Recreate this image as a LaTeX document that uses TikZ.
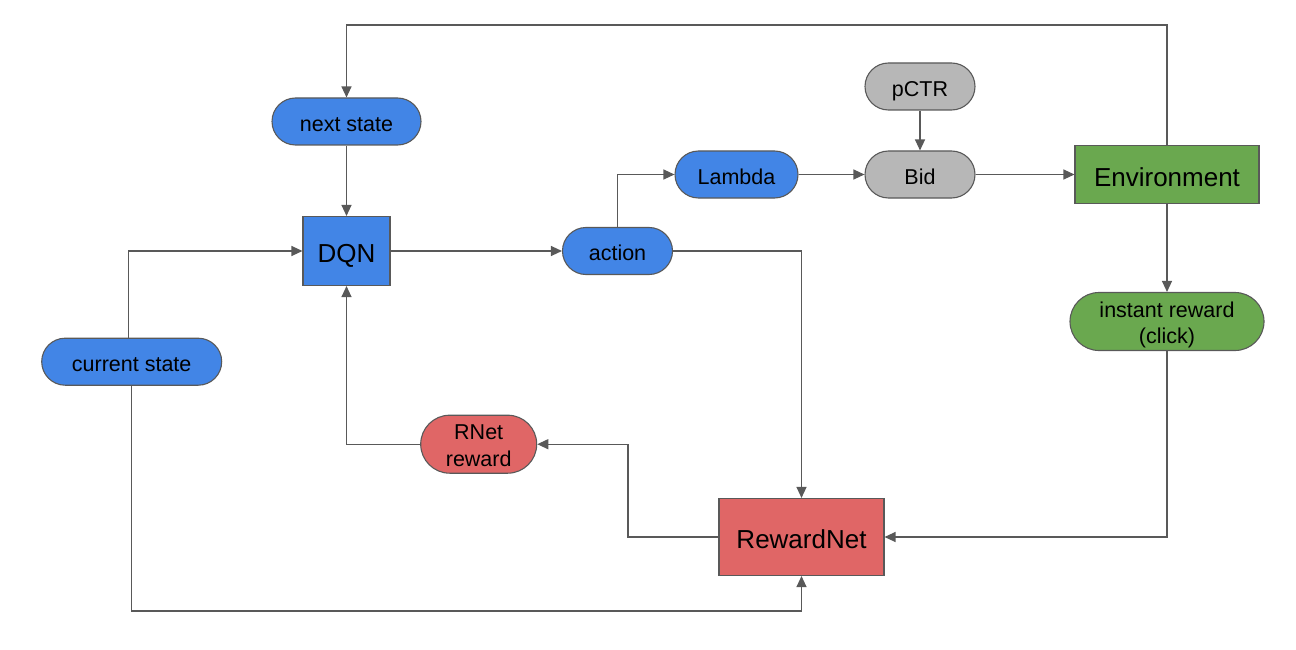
\documentclass[tikz,border=0pt]{standalone}
\usepackage{fontspec}
\setmainfont{Liberation Sans}
\usetikzlibrary{arrows.meta}
\definecolor{cblue}{HTML}{4285E6}
\definecolor{cgreen}{HTML}{6AA84F}
\definecolor{cred}{HTML}{E06666}
\definecolor{cgray}{HTML}{B7B7B7}
\definecolor{cline}{HTML}{595959}
\tikzset{
  base/.style={draw=cline, line width=1.1pt, inner sep=0pt, align=center, text=black, text depth=0pt},
  pill/.style={base, rounded corners=#1, text height=19.5pt, font=\fontsize{21.5}{26.5}\selectfont},
  pill/.default=23.5pt,
  twoline/.style={text height=44pt, text depth=0pt},
  box/.style={base, text height=23pt, font=\fontsize{26}{30}\selectfont},
  conn/.style={draw=cline, line width=1.2pt, -{Triangle[length=11pt,width=10pt]}},
}
\begin{document}
\begin{tikzpicture}[x=1pt,y=-1pt]
\useasboundingbox (0,0) rectangle (1296,650);
% nodes
\node[pill, fill=cblue, minimum width=149pt, minimum height=47pt] (next) at (346.5,121.5) {next state};
\node[box, fill=cblue, minimum width=87pt, minimum height=69pt] (dqn) at (346.5,251) {DQN};
\node[pill, fill=cblue, minimum width=110pt, minimum height=47pt] (action) at (617.5,251) {action};
\node[pill, fill=cblue, minimum width=123pt, minimum height=47pt] (lambda) at (736.5,174.5) {Lambda};
\node[pill, fill=cgray, minimum width=110pt, minimum height=47pt] (bid) at (920,174.5) {Bid};
\node[pill, fill=cgray, minimum width=110pt, minimum height=47pt] (pctr) at (920,86.5) {pCTR};
\node[box, fill=cgreen, minimum width=184pt, minimum height=58pt] (env) at (1167,174.5) {Environment};
\node[pill=29pt, twoline, fill=cgreen, minimum width=194pt, minimum height=58pt] (inst) at (1167,321.5) {instant reward\\(click)};
\node[pill=29pt, twoline, fill=cred, minimum width=116pt, minimum height=58pt] (rnet) at (478.7,444.2) {RNet\\reward};
\node[box, fill=cred, minimum width=165pt, minimum height=77pt] (rewardnet) at (801.5,537) {RewardNet};
\node[pill, fill=cblue, minimum width=180pt, minimum height=47pt] (cur) at (131.7,361.7) {current state};
% connectors
\draw[conn] (env.north) |- (346.5,25) -- (next.north);
\draw[conn] (next) -- (dqn);
\draw[conn] ([xshift=-3.4pt]cur.north) |- (dqn.west);
\draw[conn] (cur.south) |- (801.5,611) -- (rewardnet.south);
\draw[conn] (dqn) -- (action);
\draw[conn] (action.north) |- (lambda.west);
\draw[conn] (action.east) -| (rewardnet.north);
\draw[conn] (lambda) -- (bid);
\draw[conn] (pctr) -- (bid);
\draw[conn] (bid) -- (env);
\draw[conn] (env) -- (inst);
\draw[conn] (inst.south) |- (rewardnet.east);
\draw[conn] (rewardnet.west) -| (628,444.2) -- (rnet.east);
\draw[conn] (rnet.west) -| (dqn.south);
\end{tikzpicture}
\end{document}
